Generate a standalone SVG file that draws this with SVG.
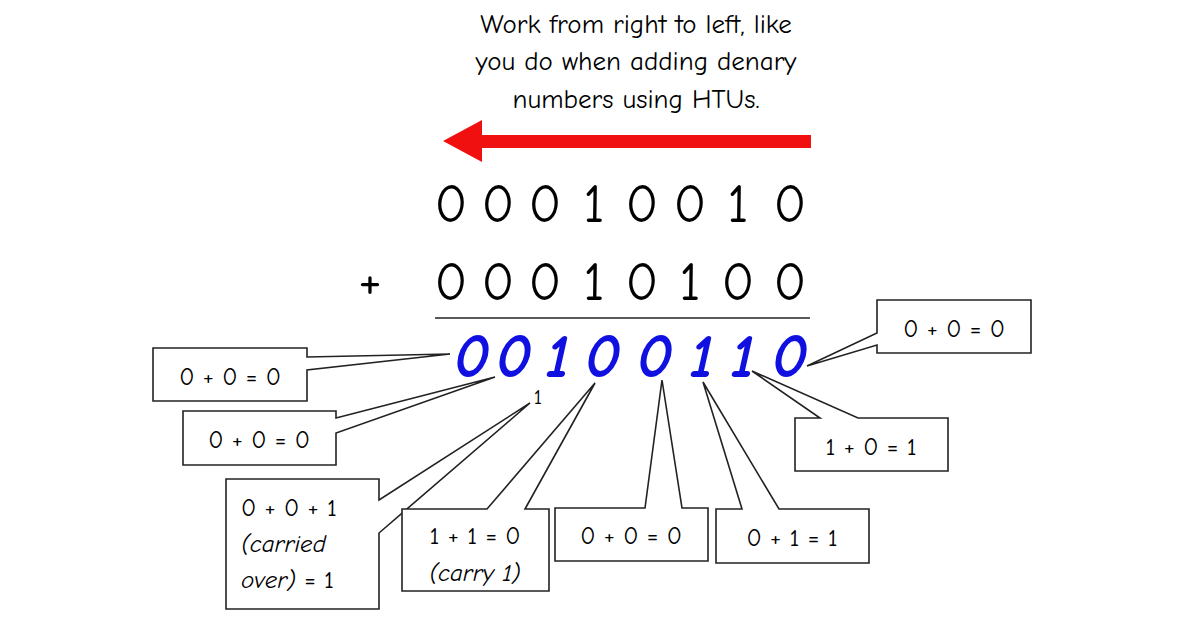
<svg xmlns="http://www.w3.org/2000/svg" width="1200" height="642" viewBox="0 0 1200 642">
<style>
text{font-family:"Comic Neue","Liberation Sans",sans-serif;fill:#000}
.big text{font-size:54px}
.res text{font-size:62px;fill:#1010e0;font-style:italic;font-weight:bold}
.lbl{font-size:25px}
.it{font-style:italic}
.co{fill:#fff;stroke:#222;stroke-width:1.6;stroke-linejoin:miter}
</style>
<rect width="1200" height="642" fill="#fff"/>
<g id="note">
<text x="636" y="33" font-size="27" text-anchor="middle">Work from right to left, like</text>
<text x="636" y="70" font-size="27" text-anchor="middle">you do when adding denary</text>
<text x="636" y="108" font-size="27" text-anchor="middle">numbers using HTUs.</text>
</g>
<g id="arrow"><polygon points="811,135 482,135 482,120 443,141 482,162 482,148 811,148" fill="#f01010"/></g>
<g id="sum">
<g class="big" text-anchor="middle">
<text x="451" y="222">0</text><text x="498" y="222">0</text><text x="545" y="222">0</text><text x="594" y="222">1</text><text x="642" y="222">0</text><text x="690" y="222">0</text><text x="738" y="222">1</text><text x="790" y="222">0</text>
<text x="370" y="298">+</text>
<text x="451" y="300">0</text><text x="498" y="300">0</text><text x="545" y="300">0</text><text x="594" y="300">1</text><text x="642" y="300">0</text><text x="690" y="300">1</text><text x="738" y="300">0</text><text x="790" y="300">0</text>
</g>
<line x1="435" y1="318" x2="810" y2="318" stroke="#222" stroke-width="1.6"/>
<g class="res" text-anchor="middle">
<text x="472" y="377">0</text><text x="514" y="377">0</text><text x="558" y="377">1</text><text x="603" y="377">0</text><text x="655" y="377">0</text><text x="702" y="377">1</text><text x="743" y="377">1</text><text x="790" y="377">0</text>
</g>
<text x="538" y="404" font-size="21" text-anchor="middle">1</text>
</g>
<g id="connectors"></g>
<g id="c1"><path class="co" d="M153,348 H307 V357 L450,354 L307,370 V401 H153 Z"/><text class="lbl" x="230" y="385" text-anchor="middle">0 + 0 = 0</text></g>
<g id="c2"><path class="co" d="M183,411 H336 V418 L495,377 L336,433 V465 H183 Z"/><text class="lbl" x="259" y="448" text-anchor="middle">0 + 0 = 0</text></g>
<g id="c3"><path class="co" d="M226,479 H379 V500 L530,403 L379,533 V609 H226 Z"/><text class="lbl" x="241" y="516">0 + 0 + 1</text><text class="lbl it" x="241" y="552">(carried</text><text class="lbl" x="241" y="588"><tspan class="it">over)</tspan> = 1</text></g>
<g id="c4"><path class="co" d="M402,509 H487 L595,383 L525,509 H549 V591 H402 Z"/><text class="lbl" x="475" y="544" text-anchor="middle">1 + 1 = 0</text><text class="lbl it" x="475" y="581" text-anchor="middle">(carry 1)</text></g>
<g id="c5"><path class="co" d="M555,508 H645 L662,380 L682,508 H708 V561 H555 Z"/><text class="lbl" x="631" y="544" text-anchor="middle">0 + 0 = 0</text></g>
<g id="c6"><path class="co" d="M716,509 H742 L703,382 L779,509 H869 V563 H716 Z"/><text class="lbl" x="792" y="546" text-anchor="middle">0 + 1 = 1</text></g>
<g id="c7"><path class="co" d="M795,418 H820 L752,371 L858,418 H948 V471 H795 Z"/><text class="lbl" x="871" y="455" text-anchor="middle">1 + 0 = 1</text></g>
<g id="c8"><path class="co" d="M877,300 H1031 V353 H877 V345 L807,366 L877,333 Z"/><text class="lbl" x="954" y="337" text-anchor="middle">0 + 0 = 0</text></g>
</svg>
